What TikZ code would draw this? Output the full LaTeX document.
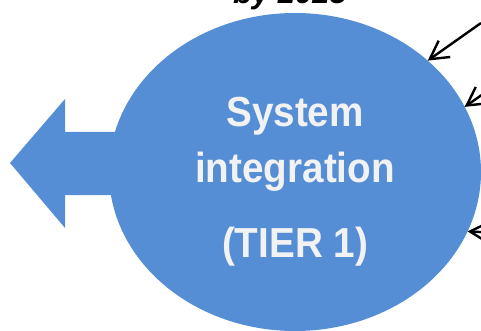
\documentclass[tikz,border=0pt]{standalone}
\usepackage{fontspec}
\setmainfont{Liberation Sans}
\usetikzlibrary{shapes.geometric,arrows.meta}
\definecolor{tierblue}{HTML}{558ED5}
\definecolor{tiertext}{HTML}{F2F2F2}
\newcommand{\narrow}[1]{\scalebox{0.92}[1]{#1}}
\begin{document}
\begin{tikzpicture}[x=1pt,y=-1pt,
  bigtext/.style={text=tiertext,font=\bfseries\fontsize{42}{50}\selectfont,anchor=base,inner sep=0pt},
  feed/.style={line width=2.4pt,-{Straight Barb[length=18pt,width=20pt,line width=2.4pt]}}]
  \useasboundingbox (0,0) rectangle (481,331);
  % outgoing block arrow
  \fill[tierblue] (10,163) -- (65,99) -- (65,132) -- (130,132) -- (130,195)
    -- (65,195) -- (65,228) -- cycle;
  % main ellipse
  \node[ellipse,fill=tierblue,draw=none,inner sep=0pt,outer sep=0pt,
        minimum width=372pt,minimum height=318pt] (ell) at (295,172) {};
  % labels
  \node[bigtext] (l1) at (295,127) {\narrow{System}};
  \node[bigtext] (l2) at (295,182) {\narrow{integration}};
  \node[bigtext] (l3) at (295,257) {\narrow{(TIER 1)}};
  \node[anchor=base,inner sep=0pt,font=\bfseries\itshape\fontsize{31}{36}\selectfont]
    (yr) at (290,4) {by 2025};
  % incoming arrows
  \coordinate (s1) at (481,23);
  \coordinate (s2) at (496,85);
  \coordinate (s3) at (500,233);
  \draw[feed] (s1) -- (ell.40);
  \draw[feed] (s2) -- (ell.21);
  \draw[feed] (s3) -- (ell.-19.5);
\end{tikzpicture}
\end{document}
